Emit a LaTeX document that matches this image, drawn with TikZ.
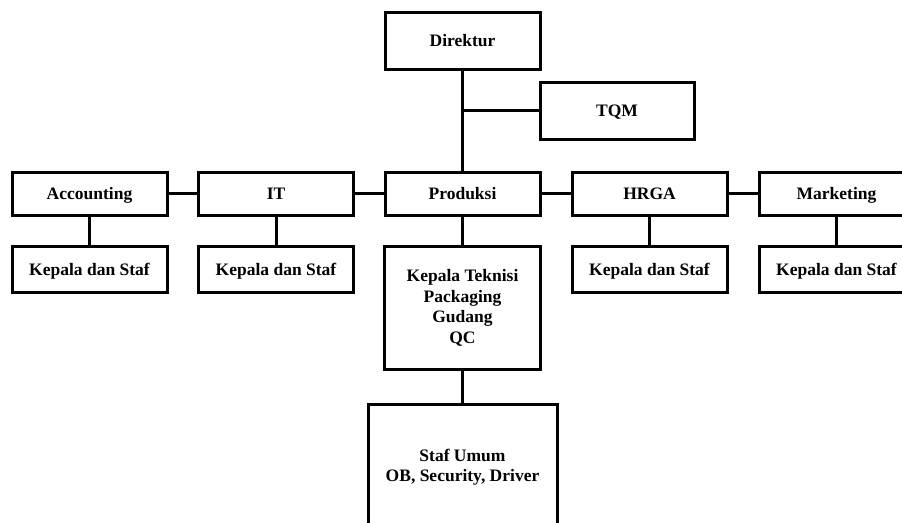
\documentclass[tikz,border=0pt]{standalone}
\usepackage{fontspec}
\setmainfont{Liberation Serif}
\usetikzlibrary{positioning}
\tikzset{
  orgbox/.style={draw=black, line width=3pt, fill=white, align=center,
    font=\fontsize{17.5}{20.5}\selectfont\bfseries, inner sep=2pt},
  oneline/.style={text height=12pt, text depth=0.5pt},
  orglink/.style={draw=black, line width=3pt},
}
\newcommand{\boxW}{155pt}

\begin{document}
\begin{tikzpicture}[x=1pt, y=-1pt]
  \clip (0,0) rectangle (902,522);

  % ===== Top: Direktur and TQM =====
  \node[orgbox, oneline, minimum width=\boxW, minimum height=57pt] (direktur) at (462.5,40.5) {Direktur};
  \node[orgbox, oneline, minimum width=154pt, minimum height=57pt] (tqm) at (617,110.5) {TQM};

  % ===== Department row =====
  \foreach \nm/\x/\txt in {acc/89.5/Accounting, it/276/IT, prod/462.5/Produksi,
                           hrga/649.5/HRGA, mkt/836.5/Marketing} {
    \node[orgbox, oneline, minimum width=\boxW, minimum height=43pt] (\nm) at (\x,193.5) {\txt};
  }

  % ===== Staff row =====
  \foreach \nm/\x in {acc/89.5, it/276, hrga/649.5, mkt/836.5} {
    \node[orgbox, oneline, minimum width=\boxW, minimum height=46pt] (\nm-staf) at (\x,269.5) {Kepala dan Staf};
  }
  \node[orgbox, minimum width=156pt, minimum height=123pt] (prod-staf) at (462.5,308)
    {Kepala Teknisi\\Packaging\\Gudang\\QC};
  \node[orgbox, minimum width=189pt, minimum height=126pt] (umum) at (462.5,467)
    {Staf Umum\\OB, Security, Driver};

  % ===== Connectors =====
  \draw[orglink] (direktur.south) -- (prod.north);
  \draw[orglink] (tqm.west) -- (tqm.west -| direktur.south);
  \draw[orglink] (acc.east) -- (it.west);
  \draw[orglink] (it.east) -- (prod.west);
  \draw[orglink] (prod.east) -- (hrga.west);
  \draw[orglink] (hrga.east) -- (mkt.west);
  \foreach \nm in {acc, it, prod, hrga, mkt}
    \draw[orglink] (\nm.south) -- (\nm-staf.north);
  \draw[orglink] (prod-staf.south) -- (umum.north);
\end{tikzpicture}
\end{document}
